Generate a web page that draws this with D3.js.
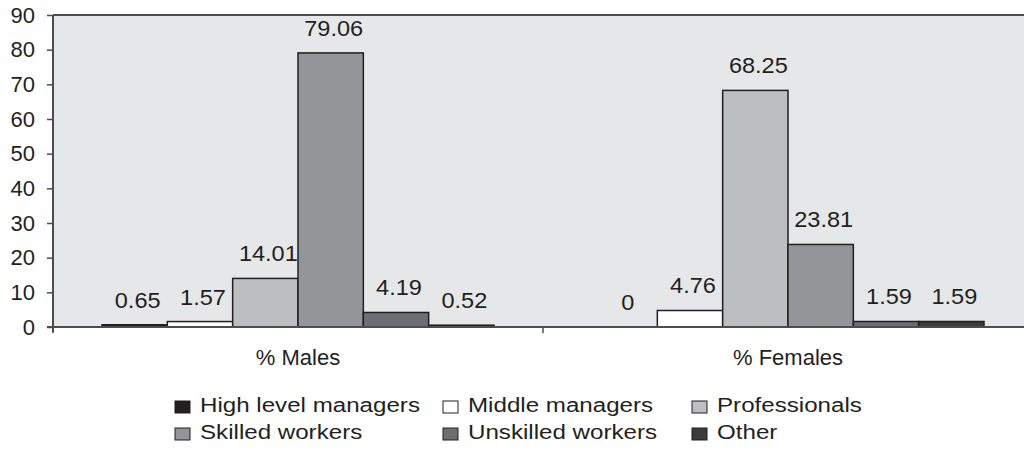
<!DOCTYPE html>
<html><head><meta charset="utf-8">
<script src="https://cdn.jsdelivr.net/npm/d3@7"></script>
<style>
html,body{margin:0;padding:0;background:#fff;}
svg{display:block;font-family:"Liberation Sans",Arial,sans-serif;}
</style></head>
<body><svg id="c" width="1024" height="450"></svg>
<script>
const categories = ["% Males", "% Females"];
const series = ["High level managers", "Middle managers", "Professionals", "Skilled workers", "Unskilled workers", "Other"];
const males = [0.65, 1.57, 14.01, 79.06, 4.19, 0.52];
const females = [0, 4.76, 68.25, 23.81, 1.59, 1.59];
const yTicks = [0, 10, 20, 30, 40, 50, 60, 70, 80, 90];
const colors = ["#231f20", "#ffffff", "#bcbec0", "#939598", "#6d6e71", "#3c3b3d"];

(function () {
const values = [males, females];
const svg = d3.select("#c");
const pL = 53, pR = 1033, pT = 15, pB = 327;
const ink = "#231f20";

const y = d3.scaleLinear().domain([0, 90]).range([pB, pT]);
const x0 = d3.scaleBand().domain(categories).range([pL, pR]).padding(0);
const x1 = d3.scaleBand().domain(series).range([0, x0.bandwidth()]).paddingInner(0).paddingOuter(0.75);
const color = d3.scaleOrdinal().domain(series).range(colors);

// plot background
svg.append("rect").attr("x", pL).attr("y", pT).attr("width", pR - pL).attr("height", pB - pT).attr("fill", "#e6e7e8");
svg.append("line").attr("x1", pL).attr("x2", pR).attr("y1", pT).attr("y2", pT).attr("stroke", "#4d4d4f").attr("stroke-width", 2);

// y axis
const yAxis = svg.append("g").attr("transform", `translate(${pL},0)`)
  .call(d3.axisLeft(y).tickValues(yTicks).tickSize(6).tickPadding(12).tickFormat(d3.format("d")));
yAxis.select(".domain").attr("stroke", "#4d4d4f").attr("stroke-width", 2).attr("d", `M0,${pT}V${pB + 5}`);
yAxis.selectAll(".tick line").attr("stroke", "#4d4d4f").attr("stroke-width", 1.5);
yAxis.selectAll(".tick text").attr("font-size", 22).attr("fill", ink).attr("font-family", "Liberation Sans, Arial, sans-serif");

// bars
const groups = svg.append("g").selectAll("g").data(categories).join("g")
  .attr("transform", d => `translate(${x0(d)},0)`);
groups.each(function(cat, ci) {
  const g = d3.select(this);
  const data = series.map((s, i) => ({s, v: values[ci][i]}));
  g.selectAll("rect").data(data.filter(d => d.v > 0)).join("rect")
    .attr("x", d => x1(d.s)).attr("width", x1.bandwidth())
    .attr("y", d => y(d.v)).attr("height", d => y(0) - y(d.v))
    .attr("fill", d => color(d.s)).attr("stroke", ink).attr("stroke-width", 1.5);
  g.selectAll("text").data(data).join("text")
    .attr("transform", d => `translate(${x1(d.s) + x1.bandwidth() / 2 + 3},${y(d.v) - 17}) scale(1.07,1)`)
    .attr("text-anchor", "middle").attr("font-size", 22).attr("fill", ink)
    .text(d => d.v);
});

// x axis
const xAxis = svg.append("g").attr("transform", `translate(0,${pB})`)
  .call(d3.axisBottom(x0).tickSize(0).tickPadding(22));
xAxis.select(".domain").attr("stroke", "#4d4d4f").attr("stroke-width", 2).attr("d", `M${pL - 6},0H${pR}`);
xAxis.selectAll(".tick text").attr("font-size", 22).attr("fill", ink).attr("dy", "0.71em").attr("font-family", "Liberation Sans, Arial, sans-serif");
// category separators
svg.append("g").selectAll("line").data(categories.concat(["end"])).join("line")
  .attr("x1", (d, i) => i < categories.length ? x0(d) : pR)
  .attr("x2", (d, i) => i < categories.length ? x0(d) : pR)
  .attr("y1", pB).attr("y2", pB + 6).attr("stroke", "#4d4d4f").attr("stroke-width", 1.5);

// legend
const legX = [175, 443, 692];
const legY = [412, 439];
const leg = svg.append("g").selectAll("g").data(series).join("g")
  .attr("transform", (d, i) => `translate(${legX[i % 3]},${legY[Math.floor(i / 3)]})`);
leg.append("rect").attr("x", 0).attr("y", -11).attr("width", 15).attr("height", 12)
  .attr("fill", d => color(d)).attr("stroke", ink).attr("stroke-width", 1);
leg.append("text").attr("transform", "translate(25,0) scale(1.15,1)").attr("font-size", 21).attr("fill", ink).text(d => d);
})();
</script></body></html>
